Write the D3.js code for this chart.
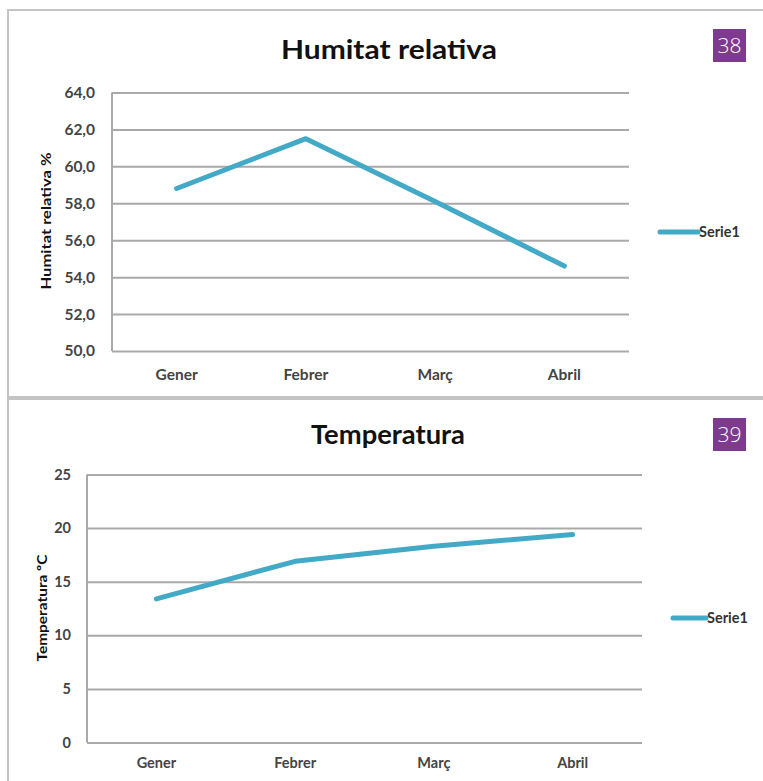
<!DOCTYPE html>
<html><head><meta charset="utf-8">
<script src="https://cdn.jsdelivr.net/npm/d3@7"></script>
<style>
html,body{margin:0;padding:0;background:#fff;}
svg{display:block;font-family:Lato,"Open Sans",sans-serif;}
</style></head>
<body>
<svg id="chart" width="763" height="781"></svg>
<script>
const categories = ["Gener", "Febrer", "Març", "Abril"];
const humitatValues = [58.8, 61.5, 58.1, 54.6];
const temperaturaValues = [13.4, 16.9, 18.3, 19.4];
const humitatTicks = [50, 52, 54, 56, 58, 60, 62, 64];
const temperaturaTicks = [0, 5, 10, 15, 20, 25];
const seriesName = "Serie1";
const titles = ["Humitat relativa", "Temperatura"];
const yTitles = ["Humitat relativa %", "Temperatura ºC"];
const badges = ["38", "39"];

const svg = d3.select("#chart");
const lineColor = "#42a9c6";
const gridColor = "#a9a9a9";
const caLocale = d3.formatLocale({decimal: ",", thousands: ".", grouping: [3], currency: ["", "€"]});

function drawChart(opt) {
  const g = svg.append("g");
  g.append("rect").attr("x", opt.frame[0]).attr("y", opt.frame[1])
    .attr("width", opt.frame[2]).attr("height", opt.frame[3])
    .attr("fill", "none").attr("stroke", "#c4c4c4").attr("stroke-width", 2);

  const x = d3.scaleBand().domain(categories).range([opt.left, opt.right]);
  const y = d3.scaleLinear().domain(opt.domain).range([opt.bottom, opt.top]);

  g.append("g").attr("transform", `translate(${opt.left},0)`)
    .call(d3.axisLeft(y).tickValues(opt.ticks).tickSize(-(opt.right - opt.left)).tickFormat(""))
    .call(a => a.select(".domain").remove())
    .call(a => a.selectAll(".tick line").attr("stroke", gridColor).attr("stroke-width", 2));

  g.append("line").attr("x1", opt.left).attr("x2", opt.left)
    .attr("y1", y(opt.domain[1])).attr("y2", y(opt.domain[0]))
    .attr("stroke", gridColor).attr("stroke-width", 2);

  g.append("g").attr("transform", `translate(${opt.left},0)`)
    .call(d3.axisLeft(y).tickValues(opt.ticks).tickSize(0).tickPadding(opt.tickPad).tickFormat(opt.fmt))
    .call(a => a.select(".domain").remove())
    .call(a => a.selectAll("text").attr("font-family", "Lato, sans-serif")
      .attr("font-size", opt.tickSize).attr("font-weight", "bold").attr("fill", "#444"));

  g.append("g").attr("transform", `translate(0,${opt.bottom})`)
    .call(d3.axisBottom(x).tickSize(0).tickPadding(opt.xPad))
    .call(a => a.select(".domain").remove())
    .call(a => a.selectAll("text").attr("font-family", "Lato, sans-serif")
      .attr("font-size", opt.tickSize).attr("font-weight", "bold").attr("fill", "#444"));

  const line = d3.line().x((d, i) => x(categories[i]) + x.bandwidth() / 2).y(d => y(d));
  g.append("path").datum(opt.values).attr("d", line).attr("fill", "none")
    .attr("stroke", lineColor).attr("stroke-width", 5).attr("stroke-linecap", "round").attr("stroke-linejoin", "round");

  g.append("text").attr("x", opt.titleX).attr("y", opt.titleY).attr("text-anchor", "middle")
    .attr("font-family", "Lato, sans-serif").attr("font-weight", "bold").attr("font-size", 27)
    .attr("textLength", opt.titleLen).attr("lengthAdjust", "spacingAndGlyphs")
    .attr("fill", "#111").text(opt.title);

  g.append("text").attr("transform", `translate(${opt.yTitleX},${opt.yTitleY}) rotate(-90)`)
    .attr("text-anchor", "middle").attr("font-family", "Lato, sans-serif").attr("font-weight", "bold")
    .attr("font-size", 14).attr("textLength", opt.yTitleLen).attr("lengthAdjust", "spacingAndGlyphs")
    .attr("fill", "#111").text(opt.yTitle);

  g.append("line").attr("x1", opt.legX).attr("x2", opt.legX + opt.legLen)
    .attr("y1", opt.legY).attr("y2", opt.legY).attr("stroke", lineColor).attr("stroke-width", 5)
    .attr("stroke-linecap", "round");
  g.append("text").attr("x", opt.legX + opt.legLen + 1).attr("y", opt.legY).attr("dy", "0.35em")
    .attr("font-family", "Lato, sans-serif").attr("font-weight", "bold").attr("font-size", 14.5)
    .attr("fill", "#333").text(seriesName);

  g.append("rect").attr("x", 713).attr("y", opt.badgeY).attr("width", 33).attr("height", 33).attr("fill", "#7d3a8e");
  g.append("text").attr("x", 729.5).attr("y", opt.badgeY + 16.5).attr("dy", "0.36em").attr("text-anchor", "middle")
    .attr("font-family", "'Open Sans', sans-serif").attr("font-weight", 300).attr("font-size", 21)
    .attr("fill", "#fff").text(opt.badge);
}

drawChart({
  frame: [8, 10, 770, 387],
  left: 112, right: 629, top: 92.5, bottom: 351,
  domain: [50, 64], ticks: humitatTicks, values: humitatValues,
  fmt: v => caLocale.format(".1f")(v), tickSize: 15.5, tickPad: 17, xPad: 18,
  title: titles[0], titleX: 389, titleY: 59, titleLen: 216,
  yTitle: yTitles[0], yTitleX: 51, yTitleY: 221, yTitleLen: 137,
  legX: 660, legLen: 38, legY: 232,
  badge: badges[0], badgeY: 29
});

drawChart({
  frame: [8, 399, 770, 400],
  left: 87, right: 642, top: 474.5, bottom: 742.5,
  domain: [0, 25], ticks: temperaturaTicks, values: temperaturaValues,
  fmt: d3.format("d"), tickSize: 14.5, tickPad: 16, xPad: 15,
  title: titles[1], titleX: 388, titleY: 444, titleLen: 154,
  yTitle: yTitles[1], yTitleX: 47, yTitleY: 608, yTitleLen: 107,
  legX: 673, legLen: 33, legY: 618,
  badge: badges[1], badgeY: 418
});
</script>
</body></html>
